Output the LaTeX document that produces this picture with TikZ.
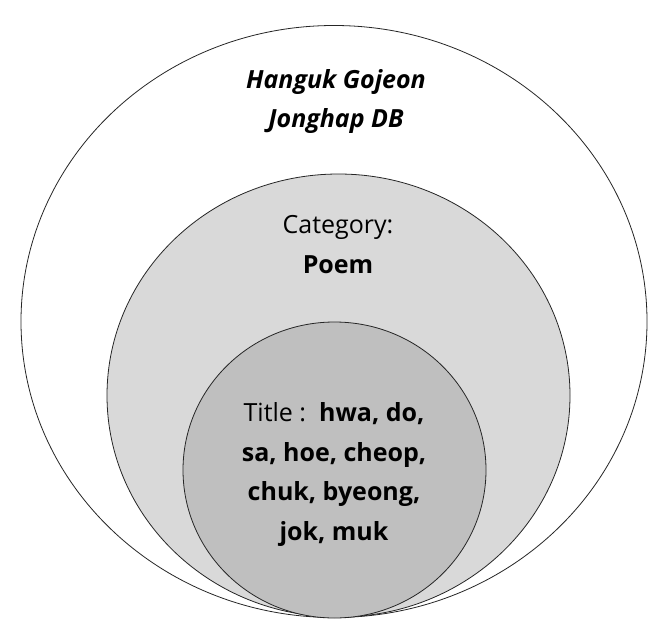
\documentclass[tikz,border=0pt]{standalone}
\usepackage{fontspec}
\setmainfont{Open Sans}
\definecolor{ringgray}{HTML}{D9D9D9}
\definecolor{coregray}{HTML}{BFBFBF}
\tikzset{
  ring/.style={draw=black!85, line width=0.8pt},
  label text/.style={align=center, inner sep=0pt, font=\fontsize{25}{39.5}\selectfont}
}
\begin{document}
\begin{tikzpicture}[x=1pt, y=-1pt, line join=round, line cap=round]
	\useasboundingbox (0,0) rectangle (671,631);
	% nested sets, all touching at the bottom
	\draw[ring, fill=white] (334,321.5) ellipse (313pt and 296pt);
	\draw[ring, fill=ringgray] (338.5,395.5) ellipse (231.5pt and 221.5pt);
	\draw[ring, fill=coregray] (334.5,470) ellipse (151.5pt and 148pt);
	% labels
	\node[label text] (db) at (336,101.5) {\textbf{\textit{Hanguk Gojeon}}\\\textbf{\textit{Jonghap DB}}};
	\node[label text] (category) at (338,244.5) {Category:\\\textbf{Poem}};
	\node[label text] (title) at (334,474.5) {Title :~~\textbf{hwa, do,}\\\textbf{sa, hoe, cheop,}\\\textbf{chuk, byeong,}\\\textbf{jok, muk}};
\end{tikzpicture}
\end{document}
